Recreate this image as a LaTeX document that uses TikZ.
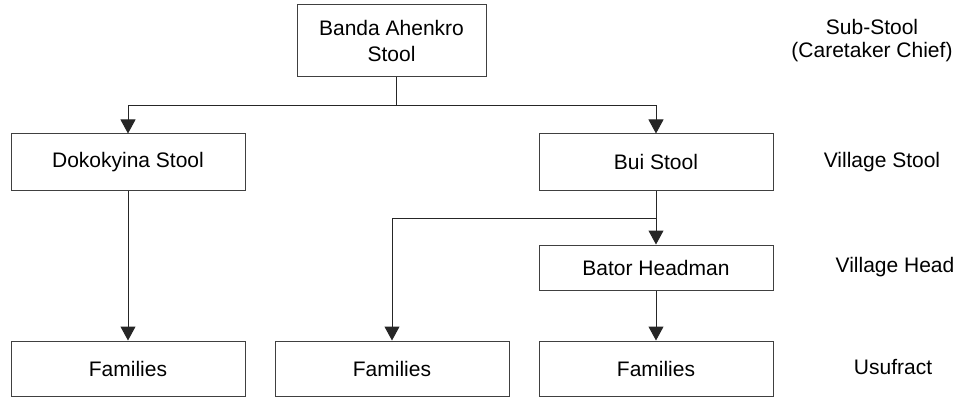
\documentclass[tikz,border=0pt]{standalone}
\usepackage{fontspec}
\setmainfont{Liberation Sans}
\usetikzlibrary{arrows.meta,calc}
\begin{document}
\begin{tikzpicture}[x=1pt,y=1pt,
  box/.style={draw=black!75,line width=1pt,fill=white,inner sep=0pt,
    minimum width=234pt,font=\fontsize{21}{26}\selectfont,align=center},
  link/.style={draw=black!85,line width=1pt},
  arrowlink/.style={link,-{Triangle[length=14pt,width=15pt]}},
  side/.style={font=\fontsize{21}{23}\selectfont,align=center,inner sep=0pt}]
  \useasboundingbox[fill=white] (0,0) rectangle (958,397);

  % organisation boxes
  \node[box,minimum width=189pt,minimum height=72pt] (banda) at (391.5,356) {Banda Ahenkro\\Stool};
  \node[box,minimum height=56pt] (dok) at (128,235) {Dokokyina Stool};
  \node[box,minimum height=56pt] (bui) at (656,235) {Bui Stool};
  \node[box,minimum height=45pt] (bator) at (656,129.5) {Bator Headman};
  \node[box,minimum height=55pt] (fam1) at (128,28.5) {Families};
  \node[box,minimum height=55pt] (fam2) at (392,28.5) {Families};
  \node[box,minimum height=55pt] (fam3) at (656,28.5) {Families};

  % level captions
  \node[side] (lvl1) at (872,356) {Sub-Stool\\(Caretaker Chief)};
  \node[side] (lvl2) at (882,235) {Village Stool};
  \node[side] (lvl3) at (895,130) {Village Head};
  \node[side] (lvl4) at (893,30) {Usufract};

  % junction points
  \coordinate (bus) at (396,291);
  \coordinate (branch) at (656,178.3);

  % connectors
  \draw[link] (bus |- banda.south) -- (bus);
  \draw[arrowlink] (bus) -| (dok.north);
  \draw[arrowlink] (bus) -| (bui.north);
  \draw[arrowlink] (dok.south) -- (fam1.north);
  \draw[arrowlink] (bui.south) -- (bator.north);
  \draw[arrowlink] (branch) -| (fam2.north);
  \draw[arrowlink] (bator.south) -- (fam3.north);
\end{tikzpicture}
\end{document}
